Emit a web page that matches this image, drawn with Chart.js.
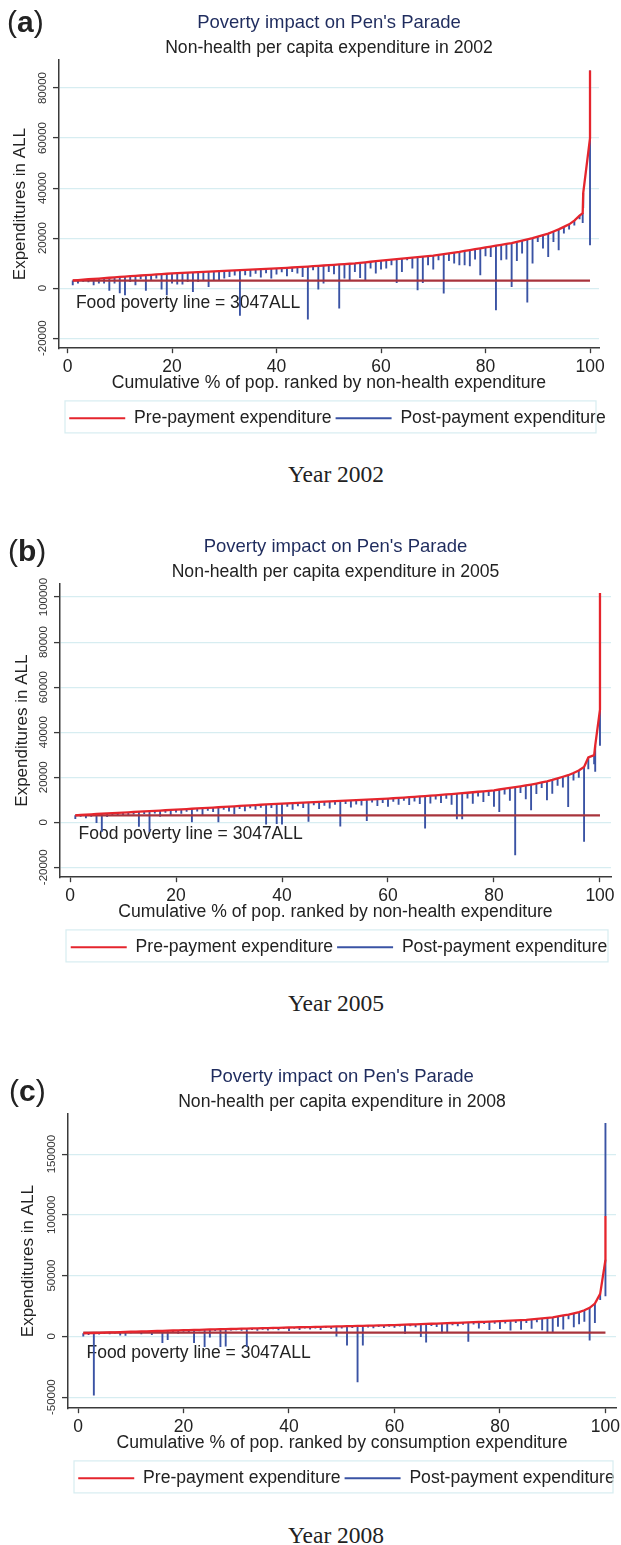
<!DOCTYPE html>
<html>
<head>
<meta charset="utf-8">
<script src="https://cdn.jsdelivr.net/npm/chart.js@4.4.1/dist/chart.umd.min.js"></script>
<style>
  html, body { margin: 0; padding: 0; background: #fff; width: 621px; height: 1545px; overflow: hidden; position: relative; }
  canvas { position: absolute; left: 0; }
  .tag { position: absolute; font-family: "Liberation Sans", Arial, sans-serif; font-size: 30px; line-height: 1; color: #222; }
  .year { position: absolute; width: 200px; text-align: center; font-family: "Liberation Serif", "Times New Roman", serif; font-size: 23.5px; line-height: 1; color: #222; }
</style>
</head>
<body>
<canvas id="chartA" style="top:0px" width="675" height="437"></canvas>
<canvas id="chartB" style="top:524px" width="678" height="442"></canvas>
<canvas id="chartC" style="top:1054px" width="693" height="443"></canvas>

<div class="tag" style="left:7px; top:7px">(<b>a</b>)</div>
<div class="tag" style="left:8px; top:536px">(<b>b</b>)</div>
<div class="tag" style="left:9px; top:1076px">(<b>c</b>)</div>
<div class="year" style="left:236px; top:463px">Year 2002</div>
<div class="year" style="left:236px; top:992px">Year 2005</div>
<div class="year" style="left:236px; top:1524px">Year 2008</div>

<script>
// tick labels
const xTicks = [0, 20, 40, 60, 80, 100];
const yTicksA = [-20000, 0, 20000, 40000, 60000, 80000];
const yTicksB = [-20000, 0, 20000, 40000, 60000, 80000, 100000];
const yTicksC = [-50000, 0, 50000, 100000, 150000];

// food poverty line (ALL) and where it runs
const povertyLine = 3047;
const povertyX = [1, 100];

// 2002: cumulative % of population, pre- and post-payment expenditure
const xA = [
  1, 2, 3, 4, 5, 6, 7, 8, 9, 10, 11, 12, 13, 14, 15, 16, 17, 18, 19, 20,
  21, 22, 23, 24, 25, 26, 27, 28, 29, 30, 31, 32, 33, 34, 35, 36, 37, 38, 39, 40,
  41, 42, 43, 44, 45, 46, 47, 48, 49, 50, 51, 52, 53, 54, 55, 56, 57, 58, 59, 60,
  61, 62, 63, 64, 65, 66, 67, 68, 69, 70, 71, 72, 73, 74, 75, 76, 77, 78, 79, 80,
  81, 82, 83, 84, 85, 86, 87, 88, 89, 90, 91, 92, 93, 94, 95, 96, 97, 98,
  98.6, 98.7, 100, 100
];
const preA = [
  3100, 3240, 3410, 3560, 3700, 3850, 4030, 4170, 4350, 4500,
  4640, 4790, 4920, 5060, 5210, 5340, 5480, 5630, 5760, 5900,
  6000, 6110, 6200, 6300, 6410, 6500, 6600, 6710, 6800, 6900,
  7000, 7110, 7200, 7300, 7400, 7510, 7600, 7700, 7810, 7900,
  8020, 8140, 8260, 8380, 8500, 8640, 8780, 8920, 9060, 9200,
  9340, 9480, 9620, 9760, 9900, 10120, 10340, 10560, 10780, 11000,
  11200, 11400, 11600, 11800, 12000, 12200, 12400, 12600, 12800, 13000,
  13300, 13600, 13900, 14200, 14500, 14860, 15220, 15580, 15940, 16300,
  16640, 16980, 17320, 17660, 18000, 18500, 19000, 19500, 20000, 20600,
  21200, 21800, 22650, 23500, 24500, 25500, 27000, 29000,
  30000, 38000, 60000, 87000
];
const postA = [
  1200, 1900, 2600, 2400, 1200, 1900, 1900, -1000, 1900, -2000,
  -2800, 2500, 1200, 3600, -1000, 3200, 3900, -500, -2800, 1900,
  1500, 1500, 2500, -1500, 2500, 3200, 500, 3200, 3200, 3900,
  4500, 5100, -11000, 5200, 4600, 5800, 4300, 6000, 3900, 5500,
  6400, 4800, 6500, 5900, 4500, -12500, 7200, -500, 1900, 6500,
  5600, -8100, 3900, 3200, 6500, 4100, 3200, 7900, 5900, 7500,
  7900, 9200, 2100, 6500, 11200, 7900, -800, 2100, 9200, 7500,
  11200, -2100, 10900, 9900, 9200, 9200, 8800, 11500, 5200, 12800,
  12500, -8800, 11200, 11500, 500, 10900, 13900, -5700, 9900, 18500,
  15900, 12500, 18500, 15200, 21900, 23500, 25000, 27500,
  26000, 32000, 17200, 76000
];

// 2005
const xB = [
  1, 2, 3, 4, 5, 6, 7, 8, 9, 10, 11, 12, 13, 14, 15, 16, 17, 18, 19, 20,
  21, 22, 23, 24, 25, 26, 27, 28, 29, 30, 31, 32, 33, 34, 35, 36, 37, 38, 39, 40,
  41, 42, 43, 44, 45, 46, 47, 48, 49, 50, 51, 52, 53, 54, 55, 56, 57, 58, 59, 60,
  61, 62, 63, 64, 65, 66, 67, 68, 69, 70, 71, 72, 73, 74, 75, 76, 77, 78, 79, 80,
  81, 82, 83, 84, 85, 86, 87, 88, 89, 90, 91, 92, 93, 94, 95, 96, 97,
  97.8, 98.9, 99.1, 100, 100
];
const preB = [
  3100, 3250, 3400, 3530, 3660, 3790, 3920, 4050, 4180, 4300,
  4430, 4560, 4690, 4820, 4950, 5080, 5210, 5340, 5470, 5600,
  5730, 5860, 5990, 6120, 6250, 6390, 6530, 6670, 6810, 6950,
  7090, 7230, 7370, 7510, 7650, 7780, 7910, 8040, 8170, 8300,
  8410, 8520, 8630, 8740, 8850, 8960, 9070, 9180, 9290, 9400,
  9510, 9620, 9730, 9840, 9950, 10060, 10170, 10280, 10390, 10500,
  10660, 10820, 10980, 11140, 11300, 11470, 11640, 11810, 11980, 12150,
  12340, 12530, 12720, 12910, 13100, 13320, 13540, 13760, 13980, 14200,
  14550, 14900, 15250, 15600, 15950, 16350, 16750, 17200, 17700, 18200,
  18800, 19500, 20200, 20900, 21900, 23000, 24600,
  28800, 29800, 34000, 50000, 101800
];
const postB = [
  1500, 2400, 1800, 2500, -300, -4300, 2300, 3000, 2900, 3100,
  2800, 3400, -2000, 3700, -4300, 3900, 2400, 4200, 2900, 4300,
  3800, 4700, 0, 4800, 3200, 5100, 4600, 0, 5600, 4800,
  3600, 5900, 4900, 6200, 5500, 6400, -1000, 6300, -800, -1000,
  6900, 5600, 7100, 6300, 200, 7500, 5900, 7300, 6100, 7800,
  -1900, 8100, 6500, 7900, 7400, 600, 8800, 7200, 8600, 6900,
  9100, 7800, 9500, 7700, 9200, 8100, -2800, 8300, 10100, 8500,
  10400, 7800, 1300, 1300, 10600, 8200, 11400, 9000, 11700, 6900,
  4600, 12300, 9600, -14700, 13000, 10200, 5300, 12500, 15200, 9800,
  12700, 16200, 15400, 6800, 18500, 19800, -8700,
  23500, 25800, 22400, 34000, 95000
];

// 2008
const xC = [
  1, 2, 3, 4, 5, 6, 7, 8, 9, 10, 11, 12, 13, 14, 15, 16, 17, 18, 19, 20,
  21, 22, 23, 24, 25, 26, 27, 28, 29, 30, 31, 32, 33, 34, 35, 36, 37, 38, 39, 40,
  41, 42, 43, 44, 45, 46, 47, 48, 49, 50, 51, 52, 53, 54, 55, 56, 57, 58, 59, 60,
  61, 62, 63, 64, 65, 66, 67, 68, 69, 70, 71, 72, 73, 74, 75, 76, 77, 78, 79, 80,
  81, 82, 83, 84, 85, 86, 87, 88, 89, 90, 91, 92, 93, 94, 95, 96, 97, 98,
  99, 100, 100
];
const preC = [
  2500, 2650, 2800, 2950, 3100, 3240, 3380, 3520, 3660, 3800,
  3930, 4060, 4190, 4320, 4450, 4580, 4710, 4840, 4970, 5100,
  5210, 5320, 5430, 5540, 5650, 5760, 5870, 5980, 6090, 6200,
  6310, 6420, 6530, 6640, 6750, 6860, 6970, 7080, 7190, 7300,
  7400, 7500, 7600, 7700, 7800, 7900, 8000, 8100, 8200, 8300,
  8400, 8500, 8600, 8700, 8800, 8910, 9020, 9130, 9240, 9350,
  9500, 9650, 9800, 9950, 10100, 10250, 10400, 10550, 10700, 10850,
  11000, 11170, 11340, 11510, 11680, 11850, 12020, 12190, 12360, 12530,
  12750, 12970, 13190, 13410, 13630, 14040, 14450, 14860, 15270, 15700,
  16450, 17200, 18000, 19000, 20000, 21500, 23500, 27000,
  35000, 63000, 99000
];
const postC = [
  0, 1200, -48700, 1500, 2000, 1700, 2300, 800, 500, 2600,
  2900, 1800, 3000, 1200, 3300, -5500, -3000, 3500, 2200, 3900,
  3600, -5500, 4200, -8800, -1000, 4500, -8800, -8300, 4800, 5000,
  4600, -8800, 5200, 4700, 5500, 4900, 5800, 5100, 6000, 4400,
  6200, 5300, 6400, 5600, 6500, 5200, 6800, 6000, 0, 6400,
  -7400, 7000, -37700, -7400, 7300, 6600, 7800, 6900, 7900, 7100,
  8200, 2000, 8300, 7600, -500, -5000, 8500, 7800, 2500, 3000,
  9200, 8400, 9600, -4400, 9700, 6500, 10100, 5200, 10300, 6000,
  10700, 4800, 11000, 5500, 11100, 6200, 11600, 5000, 3000, 3500,
  8000, 5600, 14200, 7500, 10000, 12000, -3300, 11000,
  30000, 33000, 175700
];

const FONT = '"Liberation Sans", Arial, Helvetica, sans-serif';
const RED = '#e5252d';
const BLUE = '#3a53a4';
const MAROON = '#a8343c';
const NAVY = '#1f2c5e';
const GRID = '#d7edf1';
const AXIS = '#3a3a3a';

const stataPlugin = {
  id: 'stata',
  beforeDatasetsDraw(chart, args, opts) {
    const { ctx, scales: { x, y } } = chart;
    ctx.save();
    ctx.font = '17.5px ' + FONT;
    ctx.fillStyle = '#222';
    ctx.textAlign = 'left';
    ctx.textBaseline = 'middle';
    ctx.fillText(opts.note, x.getPixelForValue(opts.noteX), y.getPixelForValue(opts.noteY));
    ctx.restore();
  },
  afterDraw(chart) {
    const { ctx, chartArea, scales: { y }, legend } = chart;
    ctx.save();
    // rotated y tick labels, Stata style
    ctx.font = '11.5px ' + FONT;
    ctx.fillStyle = '#333';
    ctx.textAlign = 'center';
    ctx.textBaseline = 'middle';
    y.ticks.forEach(t => {
      ctx.save();
      ctx.translate(chartArea.left - 16, y.getPixelForValue(t.value));
      ctx.rotate(-Math.PI / 2);
      ctx.fillText(String(t.value), 0, 0);
      ctx.restore();
    });
    // legend frame
    ctx.strokeStyle = GRID;
    ctx.lineWidth = 1.2;
    ctx.strokeRect(chartArea.left + 6, legend.top - 4.5, chartArea.right - chartArea.left - 9, 32);
    ctx.restore();
  }
};

function pensParade(id, xs, pre, post, o) {
  const spikes = [];
  xs.forEach((v, i) => {
    spikes.push({ x: v, y: pre[i] }, { x: v, y: post[i] }, { x: v, y: null });
  });

  return new Chart(document.getElementById(id), {
    type: 'line',
    data: {
      datasets: [
        {
          label: 'Pre-payment expenditure',
          data: xs.map((v, i) => ({ x: v, y: pre[i] })),
          borderColor: RED,
          backgroundColor: RED,
          borderWidth: 2.3,
          pointRadius: 0,
          yAxisID: 'y',
          order: 0
        },
        {
          label: 'Food poverty line',
          data: povertyX.map(v => ({ x: v, y: povertyLine })),
          borderColor: MAROON,
          borderWidth: 2.2,
          pointRadius: 0,
          yAxisID: 'y',
          order: 1
        },
        {
          label: 'Post-payment expenditure',
          data: spikes,
          borderColor: BLUE,
          backgroundColor: BLUE,
          borderWidth: 1.9,
          pointRadius: 0,
          spanGaps: false,
          yAxisID: 'y',
          order: 2
        }
      ]
    },
    options: {
      responsive: false,
      animation: false,
      devicePixelRatio: 1,
      layout: { padding: 0 },
      plugins: {
        title: {
          display: true,
          fullSize: false,
          text: "Poverty impact on Pen's Parade",
          color: NAVY,
          font: { family: FONT, size: 18.5, weight: 'normal' },
          padding: { top: 11.9, bottom: 0 }
        },
        subtitle: {
          display: true,
          fullSize: false,
          text: o.subtitle,
          color: '#222',
          font: { family: FONT, size: 17.6, weight: 'normal' },
          padding: { top: 3.3, bottom: 1.5 }
        },
        legend: {
          position: 'bottom',
          labels: {
            font: { family: FONT, size: 17.6 },
            color: '#222',
            boxWidth: 56,
            boxHeight: 2,
            padding: 4,
            generateLabels: chart => Chart.defaults.plugins.legend.labels.generateLabels(chart)
              .filter(l => l.datasetIndex !== 1)
              .map(l => Object.assign(l, { fillStyle: l.strokeStyle, lineWidth: 0 }))
          }
        },
        tooltip: { enabled: false },
        stata: { note: 'Food poverty line = ' + povertyLine + 'ALL', noteX: 1.6, noteY: o.noteY }
      },
      scales: {
        x: {
          type: 'linear',
          min: o.xMin,
          max: o.xMax,
          afterBuildTicks: s => { s.ticks = xTicks.map(v => ({ value: v })); },
          afterFit: s => { s.height = 57.2; },
          ticks: { font: { family: FONT, size: 17.5 }, color: '#222', padding: 3.5, maxRotation: 0, autoSkip: false },
          grid: { display: true, drawOnChartArea: false, drawTicks: true, tickLength: 5, tickColor: AXIS, tickWidth: 1.3 },
          border: { display: true, color: AXIS, width: 1.5 },
          title: { display: true, text: o.xTitle, color: '#222', font: { family: FONT, size: 17.6 }, padding: { top: 0, bottom: 11.7 } }
        },
        y: {
          type: 'linear',
          min: o.yMin,
          max: o.yMax,
          afterBuildTicks: s => { s.ticks = o.yTicks.map(v => ({ value: v })); },
          afterFit: s => { s.width = o.left; },
          ticks: { display: false },
          grid: { color: GRID, lineWidth: 1.2, tickColor: AXIS, tickLength: 6, tickWidth: 1.3 },
          border: { display: true, color: AXIS, width: 1.5 },
          title: { display: true, text: 'Expenditures in ALL', color: '#222', font: { family: FONT, size: 17 }, padding: { top: o.yTitlePad, bottom: 0 } }
        },
        yPad: {
          type: 'linear',
          position: 'right',
          display: true,
          ticks: { display: false },
          grid: { display: false },
          border: { display: false },
          afterFit: s => { s.width = o.right; }
        }
      }
    },
    plugins: [stataPlugin]
  });
}

pensParade('chartA', xA, preA, postA, {
  subtitle: 'Non-health per capita expenditure in 2002',
  xTitle: 'Cumulative % of pop. ranked by non-health expenditure',
  xMin: -1.63, xMax: 101.72, yMin: -24000, yMax: 91200, yTicks: yTicksA,
  left: 59, right: 76, yTitlePad: 9.8, noteY: -6000
});
pensParade('chartB', xB, preB, postB, {
  subtitle: 'Non-health per capita expenditure in 2005',
  xTitle: 'Cumulative % of pop. ranked by non-health expenditure',
  xMin: -1.89, xMax: 102.08, yMin: -24400, yMax: 105800, yTicks: yTicksB,
  left: 60, right: 67, yTitlePad: 11.8, noteY: -5300
});
pensParade('chartC', xC, preC, postC, {
  subtitle: 'Non-health per capita expenditure in 2008',
  xTitle: 'Cumulative % of pop. ranked by consumption expenditure',
  xMin: -1.9, xMax: 102.0, yMin: -59100, yMax: 183000, yTicks: yTicksC,
  left: 68, right: 77, yTitlePad: 17.8, noteY: -14000
});
</script>
</body>
</html>
